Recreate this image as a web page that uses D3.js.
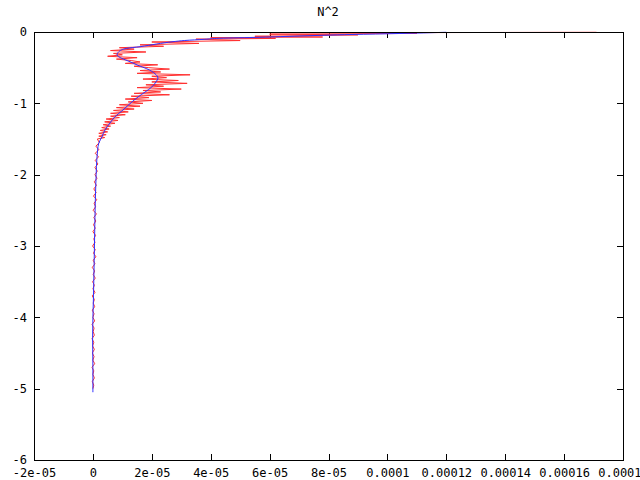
<!DOCTYPE html>
<html>
<head>
<meta charset="utf-8">
<script src="https://cdn.jsdelivr.net/npm/d3@7"></script>
<style>
  html, body { margin: 0; padding: 0; background: #fff; }
  svg { display: block; }
  text { font-family: "DejaVu Sans Mono", "Liberation Mono", monospace; font-size: 12px; fill: #000; }
</style>
</head>
<body>
<svg id="chart" width="640" height="480"></svg>
<script>
const title = "N^2";
const xTicks = [-2e-5, 0, 2e-5, 4e-5, 6e-5, 8e-5, 1e-4, 1.2e-4, 1.4e-4, 1.6e-4, 1.8e-4];
const xTickLabels = ["-2e-05", "0", "2e-05", "4e-05", "6e-05", "8e-05", "0.0001", "0.00012", "0.00014", "0.00016", "0.00018"];
const yTicks = [-6, -5, -4, -3, -2, -1, 0];
const yTickLabels = ["-6", "-5", "-4", "-3", "-2", "-1", "0"];

// raw N^2 profile (red)
const redDepth = [
  -0.004, -0.01, -0.02, -0.03, -0.04, -0.05, -0.06, -0.07, -0.08, -0.09,
  -0.10, -0.12, -0.14, -0.16, -0.18, -0.20, -0.22, -0.24, -0.26, -0.28,
  -0.30, -0.32, -0.34, -0.36, -0.38, -0.40, -0.42, -0.44, -0.46, -0.48,
  -0.50, -0.52, -0.54, -0.56, -0.58, -0.60, -0.62, -0.64, -0.66, -0.68,
  -0.70, -0.72, -0.74, -0.76, -0.78, -0.80, -0.82, -0.84, -0.86, -0.88,
  -0.90, -0.92, -0.94, -0.96, -0.98, -1.00, -1.02, -1.04, -1.06, -1.08,
  -1.10, -1.12, -1.14, -1.16, -1.18, -1.20, -1.22, -1.24, -1.26, -1.28,
  -1.30, -1.32, -1.34, -1.36, -1.38, -1.40, -1.42, -1.44, -1.46, -1.48,
  -1.50,
  -1.55, -1.60, -1.65, -1.70, -1.75, -1.80, -1.85, -1.90, -1.95, -2.00,
  -2.05, -2.10, -2.15, -2.20, -2.25, -2.30, -2.35, -2.40, -2.45, -2.50,
  -2.55, -2.60, -2.65, -2.70, -2.75, -2.80, -2.85, -2.90, -2.95, -3.00,
  -3.05, -3.10, -3.15, -3.20, -3.25, -3.30, -3.35, -3.40, -3.45, -3.50,
  -3.55, -3.60, -3.65, -3.70, -3.75, -3.80, -3.85, -3.90, -3.95, -4.00,
  -4.05, -4.10, -4.15, -4.20, -4.25, -4.30, -4.35, -4.40, -4.45, -4.50,
  -4.55, -4.60, -4.65, -4.70, -4.75, -4.80, -4.85, -4.90, -4.95, -5.00
];
const redN2 = [
  17.1e-5, 9.0e-5, 11.0e-5, 6.0e-5, 9.0e-5, 7.5e-5, 5.5e-5, 7.8e-5, 4.0e-5, 6.2e-5,
  3.5e-5, 5.0e-5, 2.0e-5, 3.6e-5, 1.6e-5, 2.4e-5, 0.9e-5, 1.4e-5, 0.6e-5, 1.8e-5,
  0.7e-5, 1.0e-5, 0.5e-5, 1.5e-5, 0.8e-5, 1.3e-5, 1.6e-5, 1.1e-5, 2.2e-5, 1.4e-5,
  1.9e-5, 2.6e-5, 1.6e-5, 2.3e-5, 1.5e-5, 3.3e-5, 2.0e-5, 2.5e-5, 1.7e-5, 2.9e-5,
  2.0e-5, 3.2e-5, 1.8e-5, 2.4e-5, 1.5e-5, 3.0e-5, 1.7e-5, 2.3e-5, 1.4e-5, 2.6e-5,
  1.3e-5, 1.9e-5, 1.1e-5, 2.0e-5, 1.2e-5, 1.7e-5, 0.9e-5, 1.6e-5, 0.8e-5, 1.4e-5,
  0.7e-5, 1.2e-5, 0.6e-5, 1.1e-5, 0.6e-5, 0.9e-5, 0.45e-5, 0.85e-5, 0.4e-5, 0.75e-5,
  0.35e-5, 0.6e-5, 0.3e-5, 0.55e-5, 0.25e-5, 0.5e-5, 0.2e-5, 0.45e-5, 0.2e-5, 0.4e-5,
  0.15e-5,
  0.22e-5, 0.1e-5, 0.2e-5, 0.08e-5, 0.19e-5, 0.08e-5, 0.17e-5, 0.07e-5, 0.15e-5, 0.07e-5,
  0.14e-5, 0.05e-5, 0.12e-5, 0.03e-5, 0.11e-5, 0.02e-5, 0.13e-5, 0.04e-5, 0.09e-5, 0.01e-5,
  0.12e-5, 0.03e-5, 0.10e-5, 0.02e-5, 0.08e-5, 0.0, 0.09e-5, 0.03e-5, 0.07e-5, -0.01e-5,
  0.08e-5, 0.02e-5, 0.10e-5, 0.01e-5, 0.07e-5, -0.02e-5, 0.06e-5, 0.01e-5, 0.08e-5, -0.01e-5,
  0.05e-5, 0.0, 0.07e-5, -0.02e-5, 0.05e-5, 0.01e-5, 0.06e-5, -0.02e-5, 0.04e-5, 0.0,
  0.06e-5, -0.03e-5, 0.04e-5, 0.01e-5, 0.05e-5, -0.03e-5, 0.03e-5, -0.01e-5, 0.05e-5, -0.02e-5,
  0.04e-5, 0.0, 0.06e-5, -0.03e-5, 0.03e-5, 0.0, 0.05e-5, -0.02e-5, 0.03e-5, 0.0
];

// smoothed N^2 profile (blue)
const blueDepth = [
  -0.004, -0.021, -0.035, -0.056, -0.074, -0.088, -0.102, -0.119, -0.136, -0.168,
  -0.206, -0.229, -0.276, -0.323, -0.369, -0.417, -0.467, -0.515, -0.585, -0.645,
  -0.701, -0.771, -0.842, -0.912, -0.968, -1.094, -1.188, -1.276, -1.374, -1.468,
  -1.557, -1.655, -2.118, -2.595, -3.198, -3.700, -4.278, -4.700, -5.021, -5.05
];
const blueN2 = [
  12.0e-5, 10.4e-5, 8.8e-5, 7.03e-5, 5.67e-5, 4.31e-5, 3.8e-5, 3.12e-5, 2.72e-5, 2.17e-5,
  1.6e-5, 1.15e-5, 0.88e-5, 0.82e-5, 0.98e-5, 1.26e-5, 1.53e-5, 1.83e-5, 2.11e-5, 2.21e-5,
  2.14e-5, 2.0e-5, 1.77e-5, 1.53e-5, 1.36e-5, 1.02e-5, 0.75e-5, 0.58e-5, 0.41e-5, 0.31e-5,
  0.2e-5, 0.16e-5, 0.1e-5, 0.07e-5, 0.044e-5, 0.02e-5, -0.01e-5, 0.0, 0.0, 0.0
];

const svg = d3.select("#chart");
const mLeft = 34, mRight = 623, mTop = 32, mBottom = 460;

const x = d3.scaleLinear().domain([-2e-5, 1.8e-4]).range([mLeft, mRight]);
const y = d3.scaleLinear().domain([-6, 0]).range([mBottom, mTop]);

// title
svg.append("text").attr("x", 328).attr("y", 16).attr("text-anchor", "middle").text(title);

// axes
const fmtX = d => xTickLabels[xTicks.indexOf(d)];
const fmtY = d => yTickLabels[yTicks.indexOf(d)];

const gB = svg.append("g").attr("transform", `translate(0,${mBottom})`)
  .call(d3.axisBottom(x).tickValues(xTicks).tickFormat(fmtX).tickSizeInner(-6).tickSizeOuter(0).tickPadding(8));
const gT = svg.append("g").attr("transform", `translate(0,${mTop})`)
  .call(d3.axisTop(x).tickValues(xTicks).tickFormat("").tickSizeInner(-6).tickSizeOuter(0));
const gL = svg.append("g").attr("transform", `translate(${mLeft},0)`)
  .call(d3.axisLeft(y).tickValues(yTicks).tickFormat(fmtY).tickSizeInner(-6).tickSizeOuter(0).tickPadding(7));
const gR = svg.append("g").attr("transform", `translate(${mRight},0)`)
  .call(d3.axisRight(y).tickValues(yTicks).tickFormat("").tickSizeInner(-6).tickSizeOuter(0));

[gB, gT, gL, gR].forEach(g => {
  g.select(".domain").remove();
  g.selectAll("line").attr("stroke", "#000").attr("shape-rendering", "crispEdges");
  g.selectAll("text").attr("font-family", "DejaVu Sans Mono, monospace").attr("font-size", 12).attr("fill", "#000");
});

// data lines
const redData = redDepth.map((d, i) => [redN2[i], d]);
const blueData = blueDepth.map((d, i) => [blueN2[i], d]);
const line = d3.line().x(d => x(d[0])).y(d => y(d[1]));

svg.append("path").datum(redData).attr("d", line)
  .attr("fill", "none").attr("stroke", "#ff3030").attr("stroke-width", 1);
svg.append("path").datum(blueData).attr("d", line.curve(d3.curveMonotoneY))
  .attr("fill", "none").attr("stroke", "#3030ff").attr("stroke-width", 1);

// frame
svg.append("rect").attr("x", mLeft + 0.5).attr("y", mTop + 0.5)
  .attr("width", mRight - mLeft).attr("height", mBottom - mTop)
  .attr("fill", "none").attr("stroke", "#000").attr("stroke-width", 1);
</script>
</body>
</html>
